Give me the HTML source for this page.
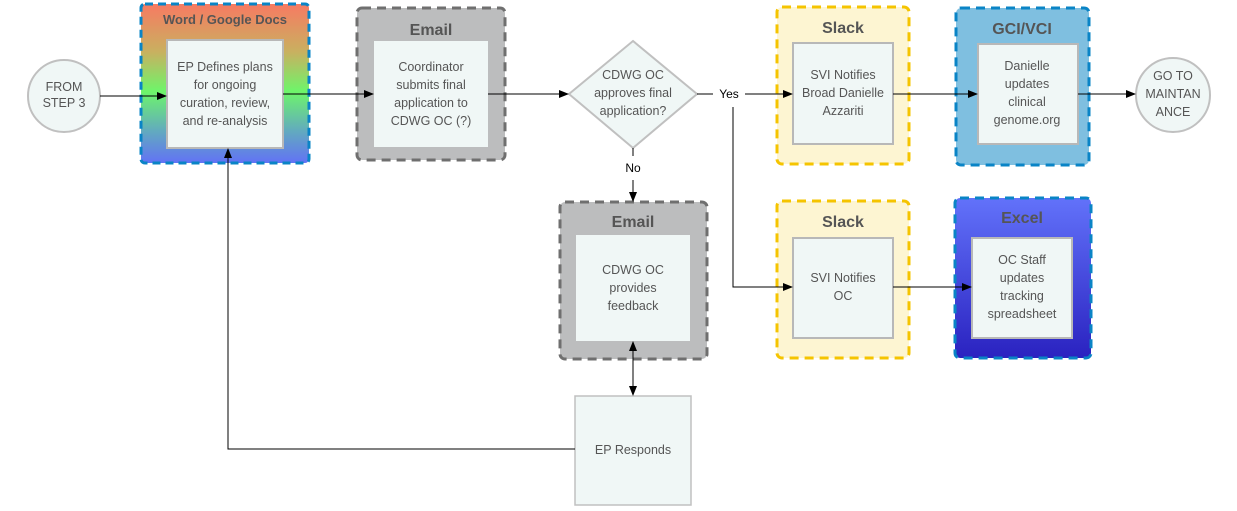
<!DOCTYPE html>
<html><head><meta charset="utf-8"><style>
body{margin:0;background:#fff}
svg text{font-family:"Liberation Sans",sans-serif}
.t{font-size:12.5px;fill:#555;text-anchor:middle}
.h{font-size:16px;font-weight:bold;fill:#555;text-anchor:middle}
.in{fill:#f0f7f6;stroke:#b8b8b8;stroke-width:2}
.ln{stroke:#000;stroke-width:1;fill:none}
</style></head><body>
<svg width="1237" height="506" viewBox="0 0 1237 506" xmlns="http://www.w3.org/2000/svg">
<defs>
<marker id="a" markerWidth="10" markerHeight="8" refX="9" refY="4" orient="auto" markerUnits="userSpaceOnUse"><path d="M0,0L10,4L0,8z" fill="#000"/></marker>
<marker id="b" markerWidth="10" markerHeight="8" refX="1" refY="4" orient="auto" markerUnits="userSpaceOnUse"><path d="M10,0L0,4L10,8z" fill="#000"/></marker>
<linearGradient id="rb" x1="0" y1="0" x2="0" y2="1">
<stop offset="0" stop-color="#f77a62"/><stop offset="0.3" stop-color="#c9b060"/><stop offset="0.55" stop-color="#6ef56a"/><stop offset="0.8" stop-color="#62aabf"/><stop offset="1" stop-color="#6272f5"/></linearGradient>
<linearGradient id="xl" x1="0" y1="0" x2="0" y2="1"><stop offset="0" stop-color="#6272fa"/><stop offset="1" stop-color="#2a22c0"/></linearGradient>
</defs>
<!-- circles -->
<circle cx="64" cy="96" r="36" fill="#f0f7f6" stroke="#c0c0c0" stroke-width="2"/>
<text class="t" x="64" y="91">FROM</text><text class="t" x="64" y="107">STEP 3</text>
<circle cx="1173" cy="95" r="37" fill="#f0f7f6" stroke="#c0c0c0" stroke-width="2"/>
<text class="t" x="1173" y="80">GO TO</text><text class="t" x="1173" y="98">MAINTAN</text><text class="t" x="1173" y="116">ANCE</text>
<!-- Word -->
<rect x="141" y="4" width="168" height="159" rx="4" fill="url(#rb)" stroke="#0a84c6" stroke-width="3" stroke-dasharray="8,5"/>
<text x="225" y="24" style="font-size:13px;font-weight:bold;fill:#555;text-anchor:middle">Word / Google Docs</text>
<rect class="in" x="167" y="40" width="116" height="108"/>
<text class="t" x="225" y="71">EP Defines plans</text><text class="t" x="225" y="89">for ongoing</text><text class="t" x="225" y="107">curation, review,</text><text class="t" x="225" y="125">and re-analysis</text>
<!-- Email1 -->
<rect x="357" y="8" width="148" height="152" rx="5" fill="#bcbdbe" stroke="#6f6f6f" stroke-width="3" stroke-dasharray="9,6"/>
<text class="h" x="431" y="35">Email</text>
<rect x="374" y="41" width="114" height="106" fill="#f0f7f6"/>
<text class="t" x="431" y="71">Coordinator</text><text class="t" x="431" y="89">submits final</text><text class="t" x="431" y="107">application to</text><text class="t" x="431" y="125">CDWG OC (?)</text>
<!-- diamond -->
<polygon points="633,41 697,94 633,148 569,94" fill="#f0f7f6" stroke="#c0c0c0" stroke-width="2"/>
<text class="t" x="633" y="79">CDWG OC</text><text class="t" x="633" y="97">approves final</text><text class="t" x="633" y="115">application?</text>
<!-- Slack1 -->
<rect x="777" y="7" width="132" height="157" rx="5" fill="#fdf5d2" stroke="#f5c400" stroke-width="3" stroke-dasharray="9,6"/>
<text class="h" x="843" y="33">Slack</text>
<rect class="in" x="793" y="43" width="100" height="101"/>
<text class="t" x="843" y="79">SVI Notifies</text><text class="t" x="843" y="97">Broad Danielle</text><text class="t" x="843" y="115">Azzariti</text>
<!-- GCI -->
<rect x="956" y="8" width="133" height="157" rx="5" fill="#7fbfe0" stroke="#0a84c6" stroke-width="3" stroke-dasharray="9,6"/>
<text class="h" x="1022" y="34">GCI/VCI</text>
<rect class="in" x="978" y="44" width="100" height="100"/>
<text class="t" x="1027" y="70">Danielle</text><text class="t" x="1027" y="88">updates</text><text class="t" x="1027" y="106">clinical</text><text class="t" x="1027" y="124">genome.org</text>
<!-- Email2 -->
<rect x="560" y="202" width="147" height="157" rx="5" fill="#bcbdbe" stroke="#6f6f6f" stroke-width="3" stroke-dasharray="9,6"/>
<text class="h" x="633" y="227">Email</text>
<rect x="576" y="235" width="114" height="106" fill="#f0f7f6"/>
<text class="t" x="633" y="274">CDWG OC</text><text class="t" x="633" y="292">provides</text><text class="t" x="633" y="310">feedback</text>
<!-- Slack2 -->
<rect x="777" y="201" width="132" height="157" rx="5" fill="#fdf5d2" stroke="#f5c400" stroke-width="3" stroke-dasharray="9,6"/>
<text class="h" x="843" y="227">Slack</text>
<rect class="in" x="793" y="238" width="100" height="100"/>
<text class="t" x="843" y="282">SVI Notifies</text><text class="t" x="843" y="300">OC</text>
<!-- Excel -->
<rect x="955" y="198" width="136" height="160" rx="5" fill="url(#xl)" stroke="#0a84c6" stroke-width="3" stroke-dasharray="9,6"/>
<text class="h" x="1022" y="223">Excel</text>
<rect class="in" x="972" y="238" width="100" height="100"/>
<text class="t" x="1022" y="264">OC Staff</text><text class="t" x="1022" y="282">updates</text><text class="t" x="1022" y="300">tracking</text><text class="t" x="1022" y="318">spreadsheet</text>
<!-- EP responds -->
<rect x="575" y="396" width="116" height="109" fill="#f0f7f6" stroke="#c0c0c0" stroke-width="1.5"/>
<text class="t" x="633" y="454">EP Responds</text>
<!-- connectors -->
<path class="ln" d="M100,96H166" marker-end="url(#a)"/>
<path class="ln" d="M283,94H373" marker-end="url(#a)"/>
<path class="ln" d="M488,94H568" marker-end="url(#a)"/>
<path class="ln" d="M697,94H713"/>
<text x="729" y="98" style="font-size:12px;fill:#000;text-anchor:middle">Yes</text>
<path class="ln" d="M745,94H792" marker-end="url(#a)"/>
<path class="ln" d="M733,107V287H792" marker-end="url(#a)"/>
<path class="ln" d="M893,94H977" marker-end="url(#a)"/>
<path class="ln" d="M1078,94H1135" marker-end="url(#a)"/>
<path class="ln" d="M893,287H971" marker-end="url(#a)"/>
<path class="ln" d="M633,148V156"/>
<text x="633" y="172" style="font-size:12px;fill:#000;text-anchor:middle">No</text>
<path class="ln" d="M633,180V201" marker-end="url(#a)"/>
<path class="ln" d="M633,342V395" marker-start="url(#b)" marker-end="url(#a)"/>
<path class="ln" d="M575,449H228V149" marker-end="url(#a)"/>
</svg>
</body></html>
